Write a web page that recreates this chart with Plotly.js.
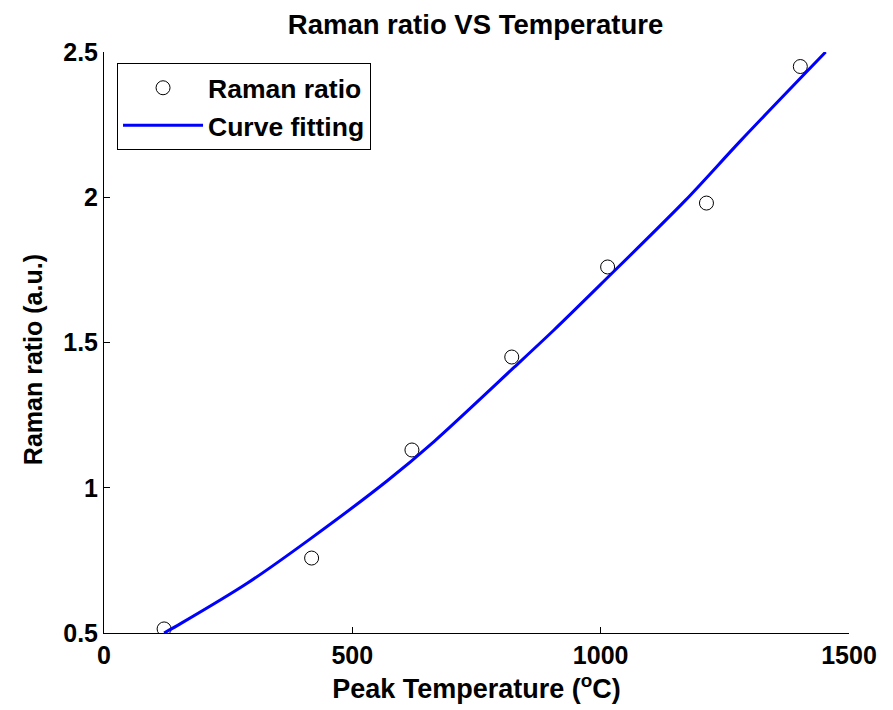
<!DOCTYPE html>
<html>
<head>
<meta charset="utf-8">
<script src="https://cdn.plot.ly/plotly-3.0.1.min.js"></script>
<style>html,body{margin:0;padding:0;background:#fff;}#chart{width:893px;height:710px;}</style>
</head>
<body>
<div id="chart"></div>
<script>
// Measured data points (Peak temperature in °C, Raman ratio)
const tempPoints = [121, 418, 620, 821, 1014, 1213, 1402];
const ratioPoints = [0.514, 0.758, 1.13, 1.45, 1.76, 1.98, 2.45];

// Fitted curve
const fitTemp = [121, 155, 289, 416, 571, 665, 826, 906, 1000, 1171, 1282, 1453];
const fitRatio = [0.50, 0.533, 0.672, 0.825, 1.025, 1.160, 1.415, 1.543, 1.700, 1.990, 2.195, 2.50];

const xTicks = [0, 500, 1000, 1500];
const yTicks = [0.5, 1, 1.5, 2, 2.5];
const yTickText = ['0.5', '1', '1.5', '2', '2.5'];

const FONT = 'Liberation Sans, Arial, Helvetica, sans-serif';
const FS = 25;

const traces = [
  {
    x: tempPoints, y: ratioPoints, type: 'scatter', mode: 'markers',
    name: 'Raman ratio',
    marker: {symbol: 'circle-open', size: 14, color: '#000', line: {width: 1, color: '#000'}}
  },
  {
    x: fitTemp, y: fitRatio, type: 'scatter', mode: 'lines',
    name: 'Curve fitting',
    line: {color: '#0000ff', width: 3, shape: 'spline', smoothing: 0.8}
  }
];

const layout = {
  width: 893, height: 710,
  paper_bgcolor: '#fff', plot_bgcolor: '#fff',
  margin: {l: 104, r: 44, t: 52, b: 77},
  font: {family: FONT, size: FS, color: '#000', weight: 'bold'},
  title: {text: 'Raman ratio VS Temperature', font: {family: FONT, size: 27.5, weight: 'bold', color: '#000'},
          x: 0.5325, xanchor: 'center', y: 0.966, yanchor: 'middle'},
  xaxis: {
    range: [0, 1500], tickvals: xTicks, ticktext: xTicks.map(String),
    ticks: 'inside', ticklen: 6, tickwidth: 1, tickcolor: '#000',
    showline: true, linecolor: '#000', linewidth: 1, mirror: false,
    showgrid: false, zeroline: false,
    tickfont: {family: FONT, size: FS, weight: 'bold'},
    title: {text: 'Peak Temperature (<sup>o</sup>C)', font: {family: FONT, size: 27, weight: 'bold'}, standoff: 11}
  },
  yaxis: {
    range: [0.5, 2.5], tickvals: yTicks, ticktext: yTickText,
    ticks: 'inside', ticklen: 6, tickwidth: 1, tickcolor: '#000',
    showline: true, linecolor: '#000', linewidth: 1, mirror: false,
    showgrid: false, zeroline: false,
    tickfont: {family: FONT, size: FS, weight: 'bold'}
  },
  annotations: [{
    text: 'Raman ratio (a.u.)', xref: 'paper', yref: 'paper',
    x: -0.095, y: 0.47, xanchor: 'center', yanchor: 'middle',
    textangle: -90, showarrow: false,
    font: {family: FONT, size: 25, weight: 'bold', color: '#000'}
  }],
  showlegend: true,
  legend: {
    x: 0.0175, y: 0.981, xanchor: 'left', yanchor: 'top',
    bgcolor: '#fff', bordercolor: '#000', borderwidth: 1,
    font: {family: FONT, size: 26.5, weight: 'bold', color: '#000'},
    itemwidth: 80, tracegroupgap: 0
  }
};

Plotly.newPlot('chart', traces, layout, {displayModeBar: false, staticPlot: true});
</script>
</body>
</html>
